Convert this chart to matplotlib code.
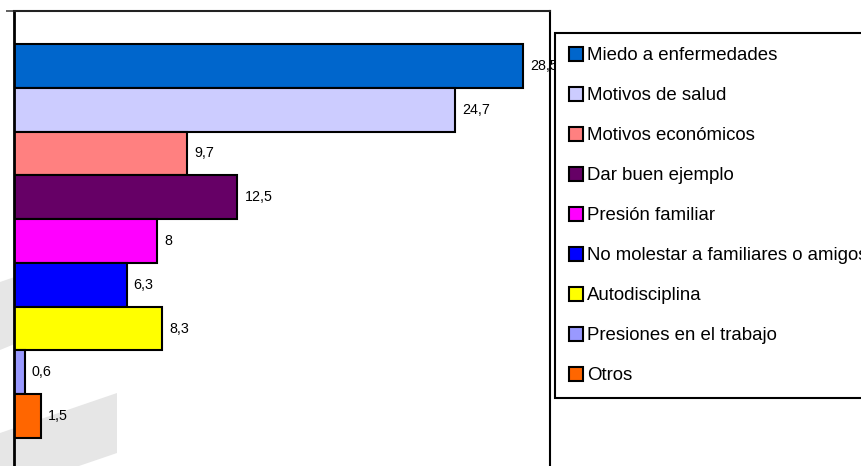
import matplotlib
matplotlib.use("Agg")
import matplotlib.pyplot as plt
from matplotlib.patches import Patch, Polygon

plt.rcParams['font.family'] = ['Liberation Sans', 'DejaVu Sans']

categorias = ['Miedo a enfermedades', 'Motivos de salud', 'Motivos económicos',
              'Dar buen ejemplo', 'Presión familiar',
              'No molestar a familiares o amigos', 'Autodisciplina',
              'Presiones en el trabajo', 'Otros']
valores = [28.5, 24.7, 9.7, 12.5, 8, 6.3, 8.3, 0.6, 1.5]
etiquetas = ['28,5', '24,7', '9,7', '12,5', '8', '6,3', '8,3', '0,6', '1,5']
colores = ['#0066CC', '#CCCCFF', '#FF8080', '#660066', '#FF00FF',
           '#0000FF', '#FFFF00', '#9999FF', '#FF6600']

W, H = 861, 466
fig = plt.figure(figsize=(W / 100, H / 100), dpi=100)

# watermark shapes in the background (figure pixel coords)
for pts in ([(0, 282), (117, 242), (117, 302), (0, 350)],
            [(0, 433), (117, 393), (117, 453), (0, 493)]):
    fig.patches.append(Polygon([(x / W, 1 - y / H) for x, y in pts],
                               closed=True, transform=fig.transFigure,
                               facecolor='#e6e6e6', edgecolor='none', zorder=-5))

ax = fig.add_axes([14 / W, 0, 536 / W, 1 - 11 / H])
ax.set_zorder(1)
ax.patch.set_alpha(0)

pos = list(range(len(valores)))
ax.barh(pos, valores, height=1.0, color=colores, edgecolor='black', linewidth=1.5)
for p, v, t in zip(pos, valores, etiquetas):
    ax.text(v + 0.4, p, t, va='center', ha='left', fontsize=10.3, zorder=2)

ax.set_xlim(0, 30)
ax.set_ylim(9.14, -1.253)
ax.set_xticks([])
ax.set_yticks([-1.253])
ax.set_yticklabels([])
ax.tick_params(axis='y', length=6, width=1.2, color='#444444')
ax.spines['bottom'].set_visible(False)
ax.spines['left'].set_linewidth(2)
ax.spines['right'].set_linewidth(1.5)
ax.spines['top'].set_linewidth(1.5)
ax.spines['top'].set_color('#222222')

handles = [Patch(facecolor=c, edgecolor='black', linewidth=1.5) for c in colores]
leg = fig.legend(handles, categorias, loc='upper left',
                 bbox_to_anchor=(555 / W, 1 - 33 / H), borderaxespad=0,
                 fontsize=13.4, frameon=True, fancybox=False,
                 handlelength=0.75, handleheight=0.75, handletextpad=0.2,
                 labelspacing=1.22, borderpad=0.75)
leg.set_zorder(5)
leg.get_frame().set_edgecolor('black')
leg.get_frame().set_linewidth(1.5)
leg.get_frame().set_alpha(1)

fig.savefig('out.png', dpi=100)
